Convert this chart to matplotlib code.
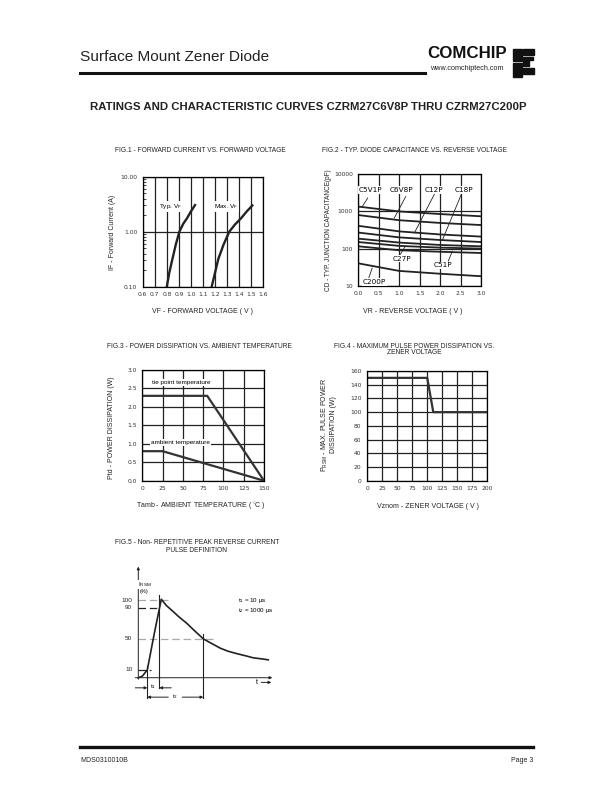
import numpy as np
import matplotlib
matplotlib.use('Agg')
import matplotlib.pyplot as plt
from matplotlib.patches import Rectangle

plt.rcParams['font.family'] = ['Liberation Sans', 'DejaVu Sans']
plt.rcParams['mathtext.fontset'] = 'custom'
plt.rcParams['mathtext.rm'] = 'Liberation Sans'
plt.rcParams['mathtext.it'] = 'Liberation Sans:italic'
plt.rcParams['axes.linewidth'] = 0.9

# ─────────────────────────────────────────
# DATA
# ─────────────────────────────────────────
# Fig.1 forward current vs forward voltage
vf_typ = [0.80, 0.82, 0.846, 0.875, 0.904, 0.935, 0.967, 1.00, 1.034]
if_typ = [0.10, 0.178, 0.316, 0.59, 1.0, 1.38, 1.75, 2.34, 3.05]
vf_max = [1.172, 1.20, 1.227, 1.27, 1.318, 1.365, 1.415, 1.46, 1.509]
if_max = [0.10, 0.18, 0.32, 0.58, 1.0, 1.35, 1.75, 2.3, 3.0]

# Fig.2 capacitance vs reverse voltage
vr = [0.0, 1.0, 2.0, 3.0]
cap_curves = {
    'C5V1P': [1350, 1000, 850, 740],
    'C6V8P': [800, 580, 490, 430],
    'C12P': [410, 290, 240, 210],
    'C18P': [270, 200, 170, 150],
    'C27P': [185, 145, 125, 115],
    'C33P': [150, 118, 106, 100],
    'C51P': [115, 90, 82, 76],
    'C200P': [40, 25, 21, 18],
}
# label text position, leader start, leader end
cap_labels = [
    ('C5V1P', (0.30, 3800), (0.23, 2300), (0.10, 1360)),
    ('C6V8P', (1.05, 3800), (1.16, 2520), (0.88, 665)),
    ('C12P', (1.84, 3800), (1.86, 2900), (1.37, 263)),
    ('C18P', (2.58, 3800), (2.52, 2900), (2.06, 174)),
    ('C27P', (1.06, 54), (1.03, 70), (1.15, 118)),
    ('C51P', (2.06, 35), (2.20, 46), (2.30, 85)),
    ('C200P', (0.39, 12.7), (0.25, 15.5), (0.34, 30)),
]

# Fig.3 power dissipation vs ambient temperature
tie_t = [0, 80, 150]
tie_p = [2.3, 2.3, 0.0]
amb_t = [0, 25, 150]
amb_p = [0.8, 0.8, 0.0]

# Fig.4 max pulse power vs zener voltage
vz = [3, 100, 110, 200]
prsm = [150, 150, 100, 100]

# Fig.5 pulse definition (time in arbitrary units, current in %)
t_pulse = [0, 4, 9, 16, 23, 28, 35, 40, 48.5, 55, 65, 72, 82, 90, 98.5, 108, 115, 125, 130]
i_pulse = [0, 2, 10, 57, 101, 93, 85, 79, 70, 62, 50, 45, 38, 34, 31, 28, 25.6, 24, 23]
levels = [100, 90, 50, 10]
level_end = [31, 21, 77, 12.5]
level_col = ['#aaaaaa', '#222222', '#aaaaaa', '#222222']
t_mark = [9, 21, 65]

W, H = 612, 792
fig = plt.figure(figsize=(W / 100, H / 100), dpi=100)
fig.patch.set_facecolor('white')


def fx(x):
    return x / W


def fy(y):
    return 1 - y / H


def box(l, t, r, b):
    return fig.add_axes([fx(l), fy(b), (r - l) / W, (b - t) / H])


def ptext(x, y, s, **kw):
    kw.setdefault('va', 'center')
    kw.setdefault('color', '#222222')
    return fig.text(fx(x), fy(y), s, **kw)


def style(ax, fs=4.3):
    ax.tick_params(direction='in', length=0, labelsize=fs, pad=4, colors='#333333')
    for lab in ax.get_xticklabels() + ax.get_yticklabels():
        lab.set_fontfamily('DejaVu Sans')
    ax.grid(True, color='#222222', lw=0.9)
    ax.set_axisbelow(True)


# ─────────────────────────────────────────
# HEADER / FOOTER
# ─────────────────────────────────────────
ptext(80, 57, 'Surface Mount Zener Diode', fontsize=11.1, ha='left')
fig.add_artist(plt.Line2D([fx(80), fx(425)], [fy(73), fy(73)], color='#111111', lw=2.2))
ptext(467, 54, 'COMCHIP', fontsize=12.2, weight='bold', ha='center', color='#111111')
ptext(467, 68, 'www.comchiptech.com', fontsize=5.2, ha='center')
for (x0, y0, w, h) in [(513, 49, 9, 12), (513, 63, 9, 14), (523, 49, 11, 6),
                       (523, 57, 6, 9), (523, 68, 11, 6), (529, 57, 4, 3)]:
    fig.add_artist(Rectangle((fx(x0), fy(y0 + h)), w / W, h / H, color='#111111',
                             transform=fig.transFigure))

ptext(308, 107, 'RATINGS AND CHARACTERISTIC CURVES CZRM27C6V8P THRU CZRM27C200P',
      fontsize=8.2, weight='bold', ha='center')

fig.add_artist(plt.Line2D([fx(80), fx(533)], [fy(747), fy(747)], color='#111111', lw=2.4))
ptext(80, 760, 'MDS0310010B', fontsize=5, ha='left')
ptext(533, 760, 'Page 3', fontsize=5, ha='right')

# ─────────────────────────────────────────
# FIG.1
# ─────────────────────────────────────────
ax1 = box(142.7, 176.7, 263.3, 286.7)
ax1.set_yscale('log')
ax1.set_xlim(0.6, 1.6)
ax1.set_ylim(0.1, 10)
ax1.set_xticks(np.round(np.arange(0.6, 1.61, 0.1), 1))
ax1.set_xticklabels(['%.1f' % v for v in np.arange(0.6, 1.61, 0.1)])
ax1.set_yticks([0.1, 1, 10])
ax1.set_yticklabels(['0.10', '1.00', '10.00'])
style(ax1)
ax1.tick_params(axis='y', which='minor', direction='in', length=2, width=0.5, labelleft=False)
ax1.plot(vf_typ, if_typ, color='#222222', lw=1.7)
ax1.plot(vf_max, if_max, color='#222222', lw=1.7)
bb = dict(facecolor='white', edgecolor='none', pad=0.6)
ax1.text(0.83, 2.9, 'Typ. V$_\\mathrm{F}$', fontsize=4.6, ha='center', va='center', bbox=bb)
ax1.text(1.29, 2.9, 'Max. V$_\\mathrm{F}$', fontsize=4.6, ha='center', va='center', bbox=bb)
ptext(200, 151, 'FIG.1 - FORWARD CURRENT VS. FORWARD VOLTAGE', fontsize=4.8, ha='center')
ptext(203, 311, 'VF - FORWARD VOLTAGE ( V )', fontsize=5, ha='center')
ptext(113, 232, 'IF - Forward Current (A)', fontsize=5, ha='center', rotation=90)

# ─────────────────────────────────────────
# FIG.2
# ─────────────────────────────────────────
ax2 = box(358.3, 174.3, 481, 285.7)
ax2.set_yscale('log')
ax2.set_xlim(0, 3)
ax2.set_ylim(10, 10000)
ax2.set_xticks(np.arange(0, 3.01, 0.5))
ax2.set_xticklabels(['%.1f' % v for v in np.arange(0, 3.01, 0.5)])
ax2.set_yticks([10, 100, 1000, 10000])
ax2.set_yticklabels(['10', '100', '1000', '10000'])
ax2.minorticks_off()
style(ax2)
for name, vals in cap_curves.items():
    ax2.plot(vr, vals, color='#222222', lw=1.3)
for name, (tx, ty), (sx, sy), (ex, ey) in cap_labels:
    ax2.plot([sx, ex], [sy, ey], color='#222222', lw=0.6)
    ax2.text(tx, ty, name, fontsize=5.2, ha='center', va='center',
             family='DejaVu Sans', bbox=dict(facecolor='white', edgecolor='none', pad=0.5))
ptext(414, 151, 'FIG.2 - TYP. DIODE CAPACITANCE VS. REVERSE VOLTAGE', fontsize=4.8, ha='center')
ptext(413, 311, 'VR - REVERSE VOLTAGE ( V )', fontsize=5, ha='center')
ptext(328, 230, 'CD - TYP. JUNCTION CAPACITANCE(pF)', fontsize=4.7, ha='center', rotation=90)

# ─────────────────────────────────────────
# FIG.3
# ─────────────────────────────────────────
ax3 = box(142.3, 370, 264, 480.7)
ax3.set_xlim(0, 150)
ax3.set_ylim(0, 3)
ax3.set_xticks(range(0, 151, 25))
ax3.set_yticks(np.arange(0, 3.01, 0.5))
ax3.set_yticklabels(['%.1f' % v for v in np.arange(0, 3.01, 0.5)])
style(ax3)
ax3.plot(tie_t, tie_p, color='#333333', lw=1.6)
ax3.plot(amb_t, amb_p, color='#333333', lw=1.6)
ax3.text(12, 2.66, 'tie point temperature', fontsize=4.6, ha='left', va='center', bbox=bb)
ax3.text(11, 1.04, 'ambient temperature', fontsize=4.6, ha='left', va='center', bbox=bb)
ptext(199, 347, 'FIG.3 - POWER DISSIPATION VS. AMBIENT TEMPERATURE', fontsize=4.8, ha='center')
ptext(201, 506, 'Tamb - AMBIENT TEMPERATURE ( $^{\\circ}$C )', fontsize=5, ha='center')
ptext(112, 428, 'Ptd - POWER DISSIPATION (W)', fontsize=5, ha='center', rotation=90)

# ─────────────────────────────────────────
# FIG.4
# ─────────────────────────────────────────
ax4 = box(367, 371, 487.5, 480.7)
ax4.set_xlim(0, 200)
ax4.set_ylim(0, 160)
ax4.set_xticks(range(0, 201, 25))
ax4.set_yticks(range(0, 161, 20))
style(ax4)
ax4.plot(vz, prsm, color='#333333', lw=1.6)
ptext(414, 346, 'FIG.4 - MAXIMUM PULSE POWER DISSIPATION VS.', fontsize=4.8, ha='center')
ptext(414, 352.5, 'ZENER VOLTAGE', fontsize=4.8, ha='center')
ptext(428, 507, 'Vznom - ZENER VOLTAGE ( V )', fontsize=5, ha='center')
ptext(328, 425, 'P$_\\mathrm{RSM}$ - MAX. PULSE POWER\nDISSIPATION (W)', fontsize=5,
      ha='center', rotation=90, linespacing=1.0)

# ─────────────────────────────────────────
# FIG.5
# ─────────────────────────────────────────
ax5 = box(108.3, 566.6, 278.3, 705.7)
ax5.set_xlim(-30, 140)
ax5.set_ylim(-36, 143)
ax5.axis('off')
arr = dict(arrowstyle='-|>', lw=0.7, color='#222222', mutation_scale=4, shrinkA=0, shrinkB=0)
ax5.annotate('', xy=(0, 143), xytext=(0, -2), arrowprops=arr)
ax5.annotate('', xy=(134, 0), xytext=(-3, 0), arrowprops=arr)
for lv, le, lc in zip(levels, level_end, level_col):
    ax5.plot([0, le], [lv, lv], color=lc, lw=0.9, dashes=(6, 3))
    ax5.text(-6, lv, str(lv), fontsize=4.6, ha='right', va='center', color='#222222')
ax5.plot(t_pulse, i_pulse, color='#222222', lw=1.2)
ax5.plot([t_mark[0], t_mark[0]], [-26, 15], color='#222222', lw=0.8)
ax5.plot([t_mark[1], t_mark[1]], [-13, 106], color='#222222', lw=0.8)
ax5.plot([t_mark[2], t_mark[2]], [-26, 56], color='#222222', lw=0.8)
ax5.annotate('', xy=(t_mark[0], -13), xytext=(-3, -13), arrowprops=arr)
ax5.annotate('', xy=(t_mark[1], -13), xytext=(33, -13), arrowprops=arr)
ax5.text(14.5, -11, 't$_1$', fontsize=4.6, ha='center', va='center')
ax5.annotate('', xy=(t_mark[0], -25), xytext=(30, -25), arrowprops=arr)
ax5.annotate('', xy=(t_mark[2], -25), xytext=(44, -25), arrowprops=arr)
ax5.text(37, -24.5, 't$_2$', fontsize=4.6, ha='center', va='center')
ax5.text(119, -6, 't', fontsize=5, ha='center', va='center')
ax5.annotate('', xy=(133, -6), xytext=(123, -6), arrowprops=arr)
ax5.text(100, 100, 't$_1$ = 10 µs', fontsize=4.5, ha='left', va='center')
ax5.text(100, 87, 't$_2$ = 1000 µs', fontsize=4.5, ha='left', va='center')
ax5.text(6, 120, 'I$_\\mathrm{RSM}$', fontsize=4.6, ha='center', va='center',
         bbox=dict(facecolor='white', edgecolor='none', pad=0.3))
ax5.text(6, 111, '(%)', fontsize=4, ha='center', va='center',
         bbox=dict(facecolor='white', edgecolor='none', pad=0.3))
ptext(197, 543, 'FIG.5 - Non- REPETITIVE PEAK REVERSE CURRENT', fontsize=4.8, ha='center')
ptext(197, 550, 'PULSE DEFINITION', fontsize=4.8, ha='center')

fig.savefig('out.png', dpi=100)
